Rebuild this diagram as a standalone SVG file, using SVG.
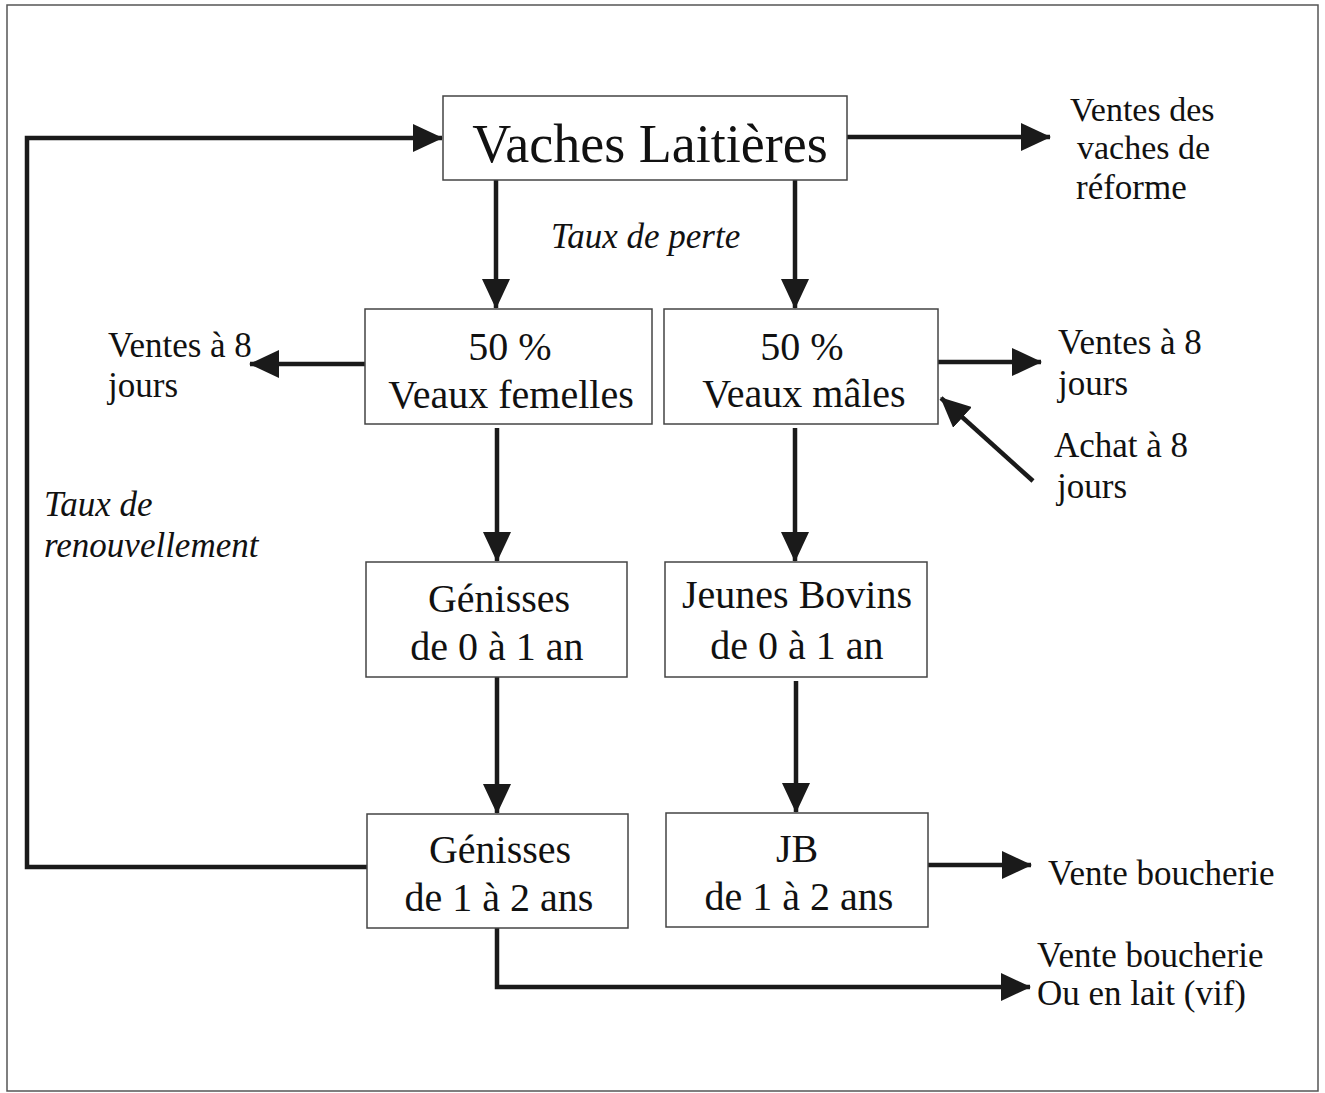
<svg xmlns="http://www.w3.org/2000/svg" width="1325" height="1093" viewBox="0 0 1325 1093">
<style>
.box{fill:#fff;stroke:#444;stroke-width:1.5}
.t{font-family:"Liberation Serif","Times New Roman",serif;fill:#111;font-size:35px}
.c{text-anchor:middle}
.n{font-size:40px}
.i{font-style:italic}
.ln{fill:none;stroke:#1a1a1a;stroke-width:4.5;marker-end:url(#ah)}
</style>
<defs>
<marker id="ah" markerUnits="userSpaceOnUse" markerWidth="30" markerHeight="28" refX="29" refY="14" orient="auto">
<path d="M0,0 L30,14 L0,28 z" fill="#1a1a1a"/>
</marker>
</defs>
<rect x="7" y="5" width="1311" height="1086" fill="#fff" stroke="#555" stroke-width="1.5"/>
<g id="connectors">
<path class="ln" d="M367,867 L27,867 L27,138 L442,138"/>
<path class="ln" d="M847,137 L1050,137"/>
<path class="ln" d="M496,180 L496,308"/>
<path class="ln" d="M795,180 L795,308"/>
<path class="ln" d="M365,364 L250,364"/>
<path class="ln" d="M938,362 L1041,362"/>
<path class="ln" d="M1033,481 L941,398"/>
<path class="ln" d="M497,428 L497,561"/>
<path class="ln" d="M795,428 L795,561"/>
<path class="ln" d="M497,677 L497,813"/>
<path class="ln" d="M796,681 L796,812"/>
<path class="ln" d="M928,865 L1031,865"/>
<path class="ln" d="M497,928 L497,987 L1030,987"/>
</g>
<g id="vaches">
<rect class="box" x="443" y="96" width="404" height="84"/>
<text class="t c" x="650" y="162" style="font-size:54px">Vaches Laitières</text>
</g>
<g id="veaux-femelles">
<rect class="box" x="365" y="309" width="287" height="115"/>
<text class="t c n" x="510" y="360">50 %</text>
<text class="t c n" x="511" y="408">Veaux femelles</text>
</g>
<g id="veaux-males">
<rect class="box" x="664" y="309" width="274" height="115"/>
<text class="t c n" x="802" y="360">50 %</text>
<text class="t c n" x="804" y="407">Veaux mâles</text>
</g>
<g id="genisses-0-1">
<rect class="box" x="366" y="562" width="261" height="115"/>
<text class="t c n" x="499" y="612">Génisses</text>
<text class="t c n" x="497" y="660">de 0 à 1 an</text>
</g>
<g id="jeunes-bovins">
<rect class="box" x="665" y="562" width="262" height="115"/>
<text class="t c n" x="797" y="608">Jeunes Bovins</text>
<text class="t c n" x="797" y="659">de 0 à 1 an</text>
</g>
<g id="genisses-1-2">
<rect class="box" x="367" y="814" width="261" height="114"/>
<text class="t c n" x="500" y="863">Génisses</text>
<text class="t c n" x="499" y="911">de 1 à 2 ans</text>
</g>
<g id="jb">
<rect class="box" x="666" y="813" width="262" height="114"/>
<text class="t c n" x="797" y="862">JB</text>
<text class="t c n" x="799" y="910">de 1 à 2 ans</text>
</g>
<g id="labels">
<text class="t" x="1070" y="121" style="font-size:34px">Ventes des</text>
<text class="t" x="1077" y="159" style="font-size:34px">vaches de</text>
<text class="t" x="1076" y="199">réforme</text>
<text class="t i" x="551" y="248">Taux de perte</text>
<text class="t" x="108" y="357">Ventes à 8</text>
<text class="t" x="108" y="397">jours</text>
<text class="t" x="1058" y="354">Ventes à 8</text>
<text class="t" x="1058" y="395">jours</text>
<text class="t" x="1054" y="457">Achat à 8</text>
<text class="t" x="1057" y="498">jours</text>
<text class="t i" x="44" y="516">Taux de</text>
<text class="t i" x="44" y="557">renouvellement</text>
<text class="t" x="1048" y="885">Vente boucherie</text>
<text class="t" x="1037" y="967">Vente boucherie</text>
<text class="t" x="1037" y="1005">Ou en lait (vif)</text>
</g>
</svg>
